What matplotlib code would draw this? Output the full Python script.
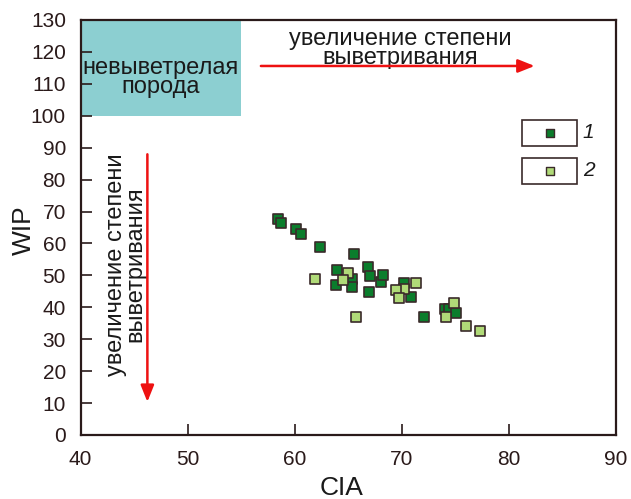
import matplotlib
matplotlib.use("Agg")
import matplotlib.pyplot as plt
from matplotlib.patches import Rectangle

plt.rcParams['font.family'] = ['Liberation Sans', 'DejaVu Sans']

# group 1 (dark green)
cia1 = [58.5, 58.7, 60.1, 60.6, 62.4, 65.6, 64.0, 65.4, 63.9, 65.4, 66.9, 67.1,
        68.05, 68.3, 67.0, 70.2, 70.9, 72.1, 74.05, 74.4, 75.1]
wip1 = [67.8, 66.5, 64.6, 63.0, 59.0, 56.6, 51.7, 49.0, 47.0, 46.3, 52.7, 49.8,
        48.0, 50.0, 44.9, 47.7, 43.3, 37.0, 39.4, 39.4, 38.3]
# group 2 (light green)
cia2 = [61.9, 65.0, 64.5, 71.4, 70.2, 69.45, 69.8, 65.75, 74.9, 74.2, 76.0, 77.3]
wip2 = [48.75, 50.6, 48.5, 47.5, 45.8, 45.4, 42.8, 36.9, 41.25, 37.1, 34.0, 32.6]

xticks = [40, 50, 60, 70, 80, 90]
yticks = list(range(0, 131, 10))

fig = plt.figure(figsize=(6.31, 4.99), dpi=100)
ax = fig.add_axes([80.5/631, 64/499, 535/631, 415/499])
ax.set_xlim(40, 90)
ax.set_ylim(0, 130)
ax.set_xticks(xticks)
ax.set_yticks(yticks)
ax.tick_params(direction='in', length=8, width=1.2, labelsize=15, colors='#2a1a1a')
ax.tick_params(axis='x', pad=11)
ax.tick_params(axis='y', pad=10.5)
for s in ax.spines.values():
    s.set_linewidth(1.6)
    s.set_color('#2a1a1a')

txtc = '#1a1a1a'
ax.add_patch(Rectangle((40, 100), 15, 30, facecolor='#8ccfd1', edgecolor='none', zorder=1))
ax.text(47.46, 112.0, 'невыветрелая\nпорода', ha='center', va='center', fontsize=17,
        linespacing=0.85, color=txtc, zorder=2)

ax.text(69.85, 121.0, 'увеличение степени\nвыветривания', ha='center', va='center',
        fontsize=17, linespacing=0.85, color=txtc)
ax.annotate('', xy=(82.7, 115.6), xytext=(56.6, 115.6),
            arrowprops=dict(arrowstyle='-|>,head_length=1.0,head_width=0.4', color='#ee1111', lw=1.8))

ax.text(44.2, 53.4, 'увеличение степени\nвыветривания', ha='center', va='center', rotation=90,
        fontsize=17, linespacing=0.85, color=txtc)
ax.annotate('', xy=(46.25, 9.5), xytext=(46.25, 88.8),
            arrowprops=dict(arrowstyle='-|>,head_length=1.0,head_width=0.4', color='#ee1111', lw=1.8))

ax.scatter(cia1, wip1, marker='s', s=62, facecolor='#0b7d2c', edgecolor='#3a2a2a', linewidth=1.2, zorder=3)
ax.scatter(cia2, wip2, marker='s', s=62, facecolor='#b0da78', edgecolor='#3a2a2a', linewidth=1.2, zorder=4)

# legend boxes
for yc, fc, lab in [(94.7, '#0b7d2c', '1'), (82.7, '#b0da78', '2')]:
    ax.add_patch(Rectangle((81.3, yc - 4.1), 5.1, 8.2, facecolor='white', edgecolor='#3a2a2a', lw=1.2, zorder=3))
    ax.scatter([83.9], [yc], marker='s', s=40, facecolor=fc, edgecolor='#3a2a2a', linewidth=1.0, zorder=4)
    ax.text(87.5, yc, lab, ha='center', va='center', fontsize=15, style='italic', color=txtc)

fig.text(342/631, 4/499, 'CIA', ha='center', va='baseline', fontsize=19, color=txtc)
fig.text(24/631, (499-230)/499, 'WIP', ha='center', va='center', rotation=90, fontsize=19, color=txtc)

fig.savefig('out.png', dpi=100)
